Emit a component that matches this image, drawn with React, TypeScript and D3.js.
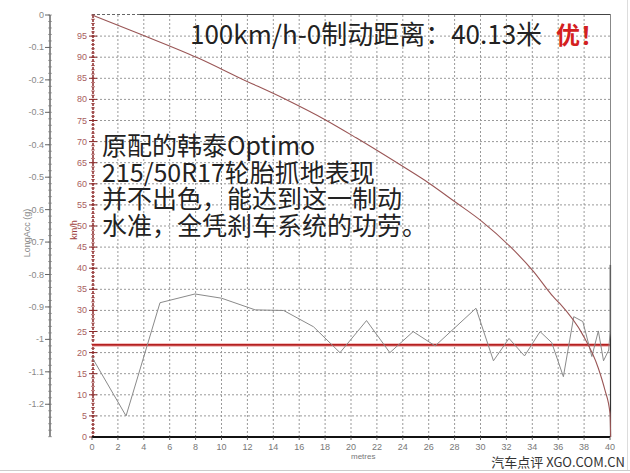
import React from "react";
import * as d3 from "d3";

const speedDist = [0, 3.7, 8.2, 11.4, 14.9, 18.0, 20.4, 23.8, 26.0, 28.0, 30.1, 32.3, 34.1, 35.6, 36.1, 37.9, 39.1, 39.6, 40.0, 40.05];
const speedKmh = [100, 95.5, 89.8, 85.1, 80.1, 75.2, 70.9, 64.5, 60.2, 55.8, 51.1, 45.1, 39.2, 33.3, 31.7, 24.2, 16.3, 11.2, 5.6, 0];

const accDist = [0, 2.63, 5.25, 7.95, 10.0, 12.6, 14.8, 17.1, 19.15, 21.2, 23.0, 24.8, 26.5, 29.65, 31.0, 32.2, 33.4, 34.6, 35.5, 36.4, 37.2, 37.9, 38.6, 39.1, 39.5, 39.9, 40.0, 40.0];
const accG = [-1.055, -1.236, -0.887, -0.86, -0.873, -0.909, -0.911, -0.961, -1.041, -0.942, -1.041, -0.976, -1.02, -0.904, -1.066, -0.997, -1.051, -0.976, -1.01, -1.115, -0.93, -0.945, -1.053, -0.974, -1.066, -1.033, -0.98, -0.77];

const avgDecelG = [-1.017];

const xTicks = d3.range(0, 41, 2);
const kmhTicks = d3.range(0, 100, 5);
const gTicks = d3.range(0, 13, 1).map((i) => -i / 10);

const titleText = "100km/h-0制动距离：40.13米";
const verdictText = "优！";
const noteLines = ["原配的韩泰Optimo", "215/50R17轮胎抓地表现", "并不出色，能达到这一制动", "水准，全凭刹车系统的功劳。"];
const watermark = "汽车点评 XGO.COM.CN";

export default function App() {
  const W = 630, H = 473;
  const x = d3.scaleLinear().domain([0, 40]).range([92, 610]);
  const yK = d3.scaleLinear().domain([0, 100]).range([437, 15]);
  const yG = d3.scaleLinear().domain([0, -1.3]).range([15, 436.7]);

  const speedLine = d3.line<number>().x((_, i) => x(speedDist[i])).y((d) => yK(d)).curve(d3.curveMonotoneX);
  const accLine = d3.line<number>().x((_, i) => x(accDist[i])).y((d) => yG(d));

  const font = "'Liberation Sans', Arial, sans-serif";
  const cjk = "'Noto Sans CJK SC', sans-serif";
  const minorK = d3.range(0, 101, 1);
  const minorG = d3.range(0, 131, 2).map((i) => -i / 100);

  return (
    <svg width={W} height={H} style={{ position: "absolute", left: 0, top: 0, background: "#fff" }}>
      <rect x={0} y={0} width={W} height={H} fill="#fff" />
      {/* grid */}
      {kmhTicks.filter((t) => t > 0).map((t) => (
        <line key={"h" + t} x1={x(0)} x2={x(40)} y1={yK(t)} y2={yK(t)} stroke="#999" strokeWidth={1} strokeDasharray="2,2" />
      ))}
      {xTicks.filter((t) => t > 0 && t < 40).map((t) => (
        <line key={"v" + t} x1={x(t)} x2={x(t)} y1={yK(100)} y2={yK(0)} stroke="#999" strokeWidth={1} strokeDasharray="2,2" />
      ))}
      {/* top border */}
      <line x1={x(0)} x2={140} y1={14.5} y2={14.5} stroke="#666" strokeDasharray="3,2" />
      <line x1={140} x2={x(40) + 1} y1={14.5} y2={14.5} stroke="#444" strokeWidth={1} />
      {/* right border */}
      <line x1={x(40) + 0.5} x2={x(40) + 0.5} y1={14} y2={437} stroke="#888" strokeWidth={1} />
      <line x1={x(40) + 0.5} x2={x(40) + 0.5} y1={265} y2={437} stroke="#333" strokeWidth={1.2} />

      {/* left g axis */}
      <line x1={50} x2={50} y1={yG(0)} y2={yG(-1.3)} stroke="#666" strokeWidth={1.5} />
      {minorG.map((t) => (
        <line key={"mg" + t} x1={48} x2={52} y1={yG(t)} y2={yG(t)} stroke="#777" strokeWidth={0.6} />
      ))}
      {gTicks.map((t) => (
        <g key={"g" + t}>
          <line x1={45} x2={50} y1={yG(t)} y2={yG(t)} stroke="#666" />
          <text x={44} y={yG(t) + 3} fontSize={9} fontFamily={font} fill="#888" textAnchor="end">
            {String(Math.round(t * 10) / 10)}
          </text>
        </g>
      ))}
      <text transform={`translate(30,233) rotate(-90)`} fontSize={9} fontFamily={font} fill="#888" textAnchor="middle">
        LongAcc (g)
      </text>

      {/* red km/h axis */}
      <line x1={93} x2={93} y1={yK(100)} y2={yK(0)} stroke="#8b2a2a" strokeWidth={1.5} strokeDasharray="3,1" />
      {minorK.map((t) => (
        <line key={"mk" + t} x1={91} x2={95} y1={yK(t)} y2={yK(t)} stroke="#9b3a3a" strokeWidth={0.7} />
      ))}
      {kmhTicks.map((t) => (
        <g key={"k" + t}>
          <line x1={89} x2={97} y1={yK(t)} y2={yK(t)} stroke="#8b2a2a" strokeWidth={1} />
          <text x={87} y={yK(t) + 3} fontSize={9} fontFamily={font} fill="#a86060" textAnchor="end">
            {t}
          </text>
        </g>
      ))}
      <text transform={`translate(77,230) rotate(-90)`} fontSize={9} fontFamily={font} fill="#a04040" textAnchor="middle">
        km/h
      </text>

      {/* x axis */}
      <line x1={x(0)} x2={x(40)} y1={437} y2={437} stroke="#111" strokeWidth={2} />
      {xTicks.map((t) => (
        <g key={"x" + t}>
          <line x1={x(t)} x2={x(t)} y1={437} y2={440} stroke="#555" />
          <text x={x(t)} y={450} fontSize={9} fontFamily={font} fill="#777" textAnchor="middle">
            {t}
          </text>
        </g>
      ))}
      <text x={x(20)} y={459} fontSize={8} fontFamily={font} fill="#777" textAnchor="start">
        metres
      </text>

      {/* average decel line */}
      {avgDecelG.map((g) => (
        <g key={"avg" + g}>
          <line x1={x(0)} x2={x(40)} y1={yG(g)} y2={yG(g)} stroke="#f3c0c0" strokeWidth={4} />
          <line x1={x(0)} x2={x(40)} y1={yG(g)} y2={yG(g)} stroke="#b52020" strokeWidth={1.6} />
        </g>
      ))}

      {/* acceleration trace */}
      <path d={accLine(accG) || ""} fill="none" stroke="#8a8a8a" strokeWidth={1} />
      {/* speed trace */}
      <path d={speedLine(speedKmh) || ""} fill="none" stroke="#9a5656" strokeWidth={1.1} />

      {/* title */}
      <text x={190} y={44} fontSize={26} fontFamily={cjk} fill="#222">
        {titleText}
      </text>
      <text x={556} y={44} fontSize={24} fontFamily={cjk} fontWeight="bold" fill="#d42020">
        {verdictText}
      </text>

      {/* note */}
      <text x={102} y={155} fontSize={25} fontFamily={cjk} fill="#222">
        {noteLines.map((l, i) => (
          <tspan key={"n" + i} x={102} dy={i === 0 ? 0 : 26.5}>
            {l}
          </tspan>
        ))}
      </text>

      {/* frame */}
      <line x1={0} x2={W} y1={470.5} y2={470.5} stroke="#ccc" strokeWidth={1} />
      <line x1={627.5} x2={627.5} y1={0} y2={470} stroke="#ddd" strokeWidth={1} />

      <text x={625} y={467} fontSize={13} fontFamily={cjk} fill="#333" textAnchor="end">
        {watermark}
      </text>
    </svg>
  );
}
